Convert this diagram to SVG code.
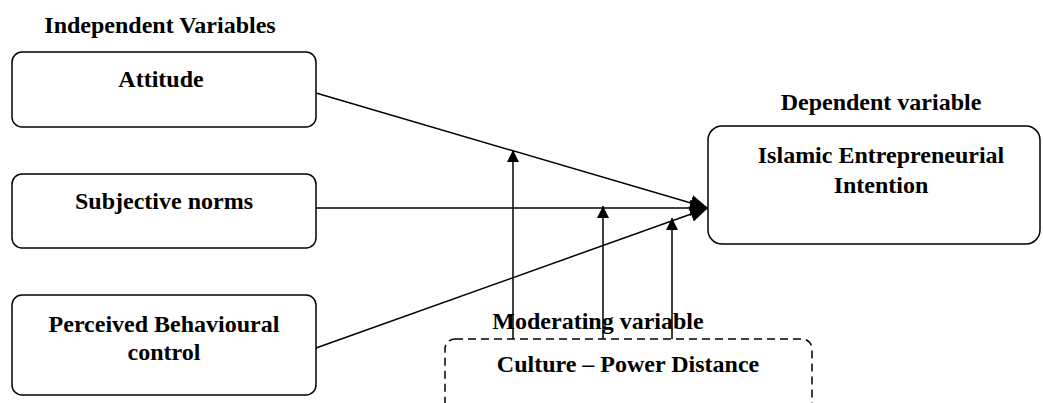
<svg xmlns="http://www.w3.org/2000/svg" width="1043" height="403" viewBox="0 0 1043 403">
<style>
.box{fill:#fff;stroke:#000;stroke-width:1.5}
.dash{fill:none;stroke:#000;stroke-width:1.5;stroke-dasharray:8 5}
text{font-family:'Liberation Serif','DejaVu Serif',serif;font-weight:bold;font-size:24px;fill:#000;text-anchor:middle}
.ln{stroke:#000;stroke-width:1.5;fill:none}
</style>
<defs>
<marker id="big" markerWidth="20" markerHeight="20" refX="18" refY="8" orient="auto" markerUnits="userSpaceOnUse" viewBox="0 0 20 16">
<path d="M0,0 L18,8 L0,16 Z" fill="#000"/>
</marker>
<marker id="sm" markerWidth="12" markerHeight="12" refX="12" refY="6" orient="auto" markerUnits="userSpaceOnUse" viewBox="0 0 12 12">
<path d="M0,0 L12,6 L0,12 Z" fill="#000"/>
</marker>
</defs>
<text x="160" y="33">Independent Variables</text>
<text x="881" y="110">Dependent variable</text>
<text x="598" y="329">Moderating variable</text>
<g id="connectors">
<line class="ln" x1="316" y1="93" x2="708" y2="208" marker-end="url(#big)"/>
<line class="ln" x1="316" y1="208" x2="708" y2="208" marker-end="url(#big)"/>
<line class="ln" x1="316" y1="348" x2="708" y2="208" marker-end="url(#big)"/>
<line class="ln" x1="513" y1="339" x2="513" y2="150" marker-end="url(#sm)"/>
<line class="ln" x1="603" y1="339" x2="603" y2="206" marker-end="url(#sm)"/>
<line class="ln" x1="672" y1="339" x2="672" y2="218" marker-end="url(#sm)"/>
</g>
<g id="attitude">
<rect class="box" x="12" y="52" width="304" height="75" rx="10"/>
<text x="161" y="87">Attitude</text>
</g>
<g id="subjective">
<rect class="box" x="12" y="174" width="304" height="74" rx="10"/>
<text x="164" y="209">Subjective norms</text>
</g>
<g id="perceived">
<rect class="box" x="12" y="295" width="304" height="100" rx="10"/>
<text x="164" y="332">Perceived Behavioural</text>
<text x="164" y="360">control</text>
</g>
<g id="dependent">
<rect class="box" x="708" y="126" width="332" height="118" rx="14"/>
<text x="881" y="163">Islamic Entrepreneurial</text>
<text x="881" y="193">Intention</text>
</g>
<g id="moderating">
<rect class="dash" x="445" y="339" width="367" height="100" rx="10"/>
<text x="628" y="372">Culture – Power Distance</text>
</g>
</svg>
